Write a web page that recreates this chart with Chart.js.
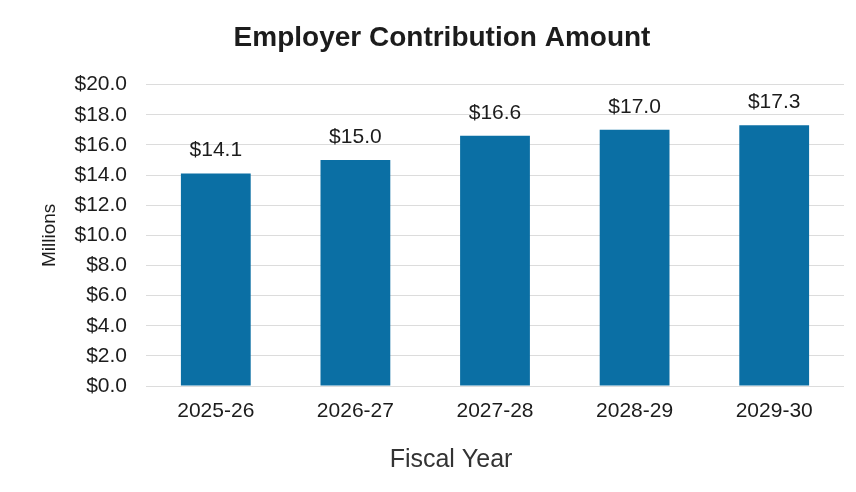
<!DOCTYPE html>
<html>
<head>
<meta charset="utf-8">
<title>Employer Contribution Amount</title>
<script src="https://cdn.jsdelivr.net/npm/chart.js@4.4.1/dist/chart.umd.min.js"></script>
<style>
    html, body { margin: 0; padding: 0; background: #ffffff; }
    #wrap { width: 856px; height: 492px; }
</style>
</head>
<body>
<div id="wrap"><canvas id="contribChart" width="856" height="492"></canvas></div>
<script>
// Chart data
const fiscalYears = ['2025-26', '2026-27', '2027-28', '2028-29', '2029-30'];
const contributionMillions = [14.1, 15.0, 16.6, 17.0, 17.3];
const yTickValues = [0, 2, 4, 6, 8, 10, 12, 14, 16, 18, 20];

const FONT = '"Liberation Sans", Arial, sans-serif';
const TEXT = '#1c1c1c';
const BAR = '#0b6fa4';

// Dollar labels over each bar
const valueLabels = {
    id: 'valueLabels',
    afterDatasetsDraw(chart) {
        const ctx = chart.ctx;
        const meta = chart.getDatasetMeta(0);
        ctx.save();
        ctx.font = `21px ${FONT}`;
        ctx.fillStyle = TEXT;
        ctx.textAlign = 'center';
        ctx.textBaseline = 'middle';
        meta.data.forEach((bar, i) => {
            ctx.fillText('$' + contributionMillions[i].toFixed(1), bar.x, bar.y - 23);
        });
        ctx.restore();
    }
};

// Bottom axis caption, sits a little left of the plot centre
const axisCaption = {
    id: 'axisCaption',
    afterDraw(chart) {
        const ctx = chart.ctx;
        ctx.save();
        ctx.font = `25px ${FONT}`;
        ctx.fillStyle = '#333333';
        ctx.textAlign = 'center';
        ctx.textBaseline = 'middle';
        ctx.fillText('Fiscal Year', 451, 460);
        ctx.restore();
    }
};

const ctx = document.getElementById('contribChart').getContext('2d');
new Chart(ctx, {
    type: 'bar',
    data: {
        labels: fiscalYears,
        datasets: [{
            label: 'Employer Contribution',
            data: contributionMillions,
            backgroundColor: BAR,
            borderWidth: 0,
            barPercentage: 0.5,
            categoryPercentage: 1.0
        }]
    },
    options: {
        responsive: false,
        animation: false,
        layout: { padding: { left: 40, right: 12, top: 0, bottom: 0 } },
        plugins: {
            legend: { display: false },
            tooltip: { enabled: false },
            title: {
                display: true,
                text: 'Employer Contribution Amount',
                color: TEXT,
                font: { family: FONT, size: 28, weight: 'bold' },
                padding: { top: 21, bottom: 30 }
            }
        },
        scales: {
            x: {
                grid: { display: false, drawTicks: false },
                border: { display: false },
                ticks: { color: TEXT, font: { family: FONT, size: 21 }, padding: 13 },
                afterFit: s => { s.height = 106; }
            },
            y: {
                min: 0,
                max: 20,
                afterBuildTicks: s => { s.ticks = yTickValues.map(v => ({ value: v })); },
                grid: { color: '#dcdcdc', lineWidth: 1, drawTicks: false },
                border: { display: false },
                ticks: {
                    color: TEXT,
                    font: { family: FONT, size: 21 },
                    padding: 19,
                    callback: v => '$' + Number(v).toFixed(1)
                },
                title: {
                    display: true,
                    text: 'Millions',
                    color: TEXT,
                    font: { family: FONT, size: 19, lineHeight: 1 },
                    padding: { top: 0, bottom: 0 }
                },
                afterFit: s => { s.width = 106; }
            }
        }
    },
    plugins: [valueLabels, axisCaption]
});
</script>
</body>
</html>
